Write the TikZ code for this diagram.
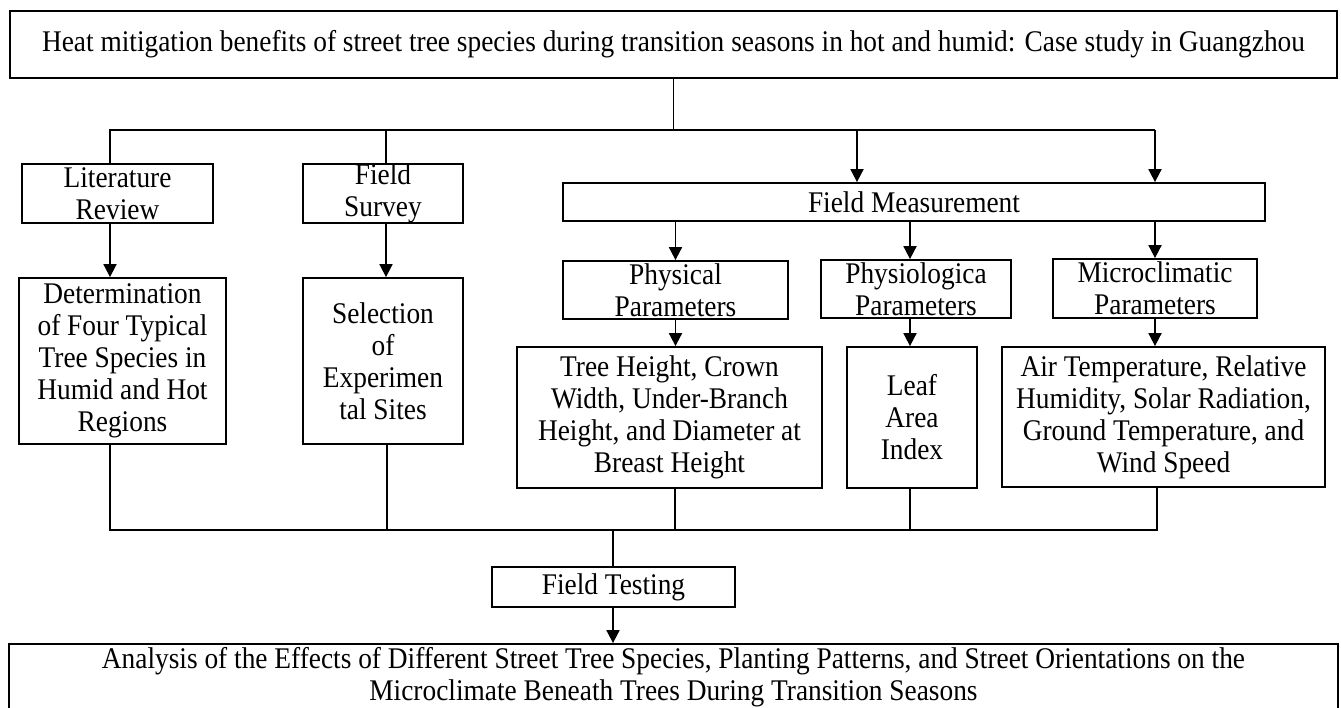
\documentclass[tikz,border=0pt]{standalone}
\usepackage{fontspec}
\setmainfont[FakeStretch=0.912]{Liberation Serif}
\usetikzlibrary{arrows.meta}

\begin{document}
\begin{tikzpicture}[x=0.5pt,y=-0.5pt,
      box/.style={draw,line width=0.9pt,align=center,inner sep=0pt,
        font=\fontsize{15}{16}\selectfont},
      wire/.style={line width=0.9pt},
      arrow/.style={wire,-{Triangle[length=6.5pt,width=6.5pt]}}]
    % page is 1341 x 708 px, y grows downwards
    \useasboundingbox (0,0) rectangle (1341,708);

    % title and final result
    \node[box,minimum width=663.5pt,minimum height=33.5pt] (title) at (673.5,44.5)
      {Heat mitigation benefits of street tree species during transition seasons in hot and humid: Case study in Guangzhou};
    \node[box,minimum width=664.5pt,minimum height=33pt] (final) at (673.5,677)
      {Analysis of the Effects of Different Street Tree Species, Planting Patterns, and Street Orientations on the\\
       Microclimate Beneath Trees During Transition Seasons};

    % first row
    \node[box,minimum width=95.5pt,minimum height=29.5pt] (lit) at (117.5,193.5) {Literature\\Review};
    \node[box,minimum width=80pt,minimum height=29.5pt] (survey) at (383,193.5) {Field\\Survey};
    \node[box,minimum width=351pt,minimum height=19pt] (fm) at (914,202) {Field Measurement};

    % parameter groups
    \node[box,minimum width=112.5pt,minimum height=29pt] (phys) at (675.5,290) {Physical\\Parameters};
    \node[box,minimum width=95pt,minimum height=29pt] (physio) at (916,289) {Physiologica\\Parameters};
    \node[box,minimum width=102pt,minimum height=29.5pt] (micro) at (1155,288.5) {Microclimatic\\Parameters};

    % detail boxes
    \node[box,minimum width=103.5pt,minimum height=83pt] (det) at (122.5,361)
      {Determination\\of Four Typical\\Tree Species in\\Humid and Hot\\Regions};
    \node[box,minimum width=80pt,minimum height=83pt] (sel) at (383,361)
      {Selection\\of\\Experimen\\tal Sites};
    \node[box,minimum width=152.5pt,minimum height=70.5pt] (tree) at (669.5,417.5)
      {Tree Height, Crown\\Width, Under-Branch\\Height, and Diameter at\\Breast Height};
    \node[box,minimum width=65pt,minimum height=70.5pt] (leaf) at (912,417.5)
      {Leaf\\Area\\Index};
    \node[box,minimum width=161.5pt,minimum height=70pt] (air) at (1163.5,417)
      {Air Temperature, Relative\\Humidity, Solar Radiation,\\Ground Temperature, and\\Wind Speed};

    \node[box,minimum width=121.5pt,minimum height=20pt] (test) at (613.5,587) {Field Testing};

    % connector columns
    \coordinate (c1) at (110,130);
    \coordinate (c2) at (386,130);
    \coordinate (c3) at (857,130);
    \coordinate (c4) at (1155,130);
    \coordinate (c5) at (910,130);
    \coordinate (d1) at (110,530);
    \coordinate (d5) at (1157,530);
    \coordinate (d0) at (613,530);

    % top distribution
    \draw[wire] (title.south) -- (title.south |- c1);
    \draw[wire] (lit.north -| c1) -- (c1) -- (c4);
    \draw[wire] (survey.north -| c2) -- (c2);
    \draw[arrow] (c3) -- (fm.north -| c3);
    \draw[arrow] (c4) -- (fm.north -| c4);
    \draw[arrow] (lit.south -| c1) -- (det.north -| c1);
    \draw[arrow] (survey.south -| c2) -- (sel.north -| c2);

    % measurement branches
    \draw[arrow] (fm.south -| phys.north) -- (phys.north);
    \draw[arrow] (fm.south -| c5) -- (physio.north -| c5);
    \draw[arrow] (fm.south -| micro.north) -- (micro.north);
    \draw[arrow] (phys.south) -- (tree.north -| phys.south);
    \draw[arrow] (physio.south -| c5) -- (leaf.north -| c5);
    \draw[arrow] (micro.south) -- (air.north -| micro.south);

    % collect into field testing
    \draw[wire] (det.south -| d1) -- (d1) -- (d5) -- (air.south -| d5);
    \foreach \n/\x in {sel/387,tree/675,leaf/910}
      \draw[wire] (\n.south -| \x,0) -- (\x,530);
    \draw[wire] (d0) -- (test.north -| d0);
    \draw[arrow] (test.south -| d0) -- (final.north -| d0);
  \end{tikzpicture}
\end{document}
